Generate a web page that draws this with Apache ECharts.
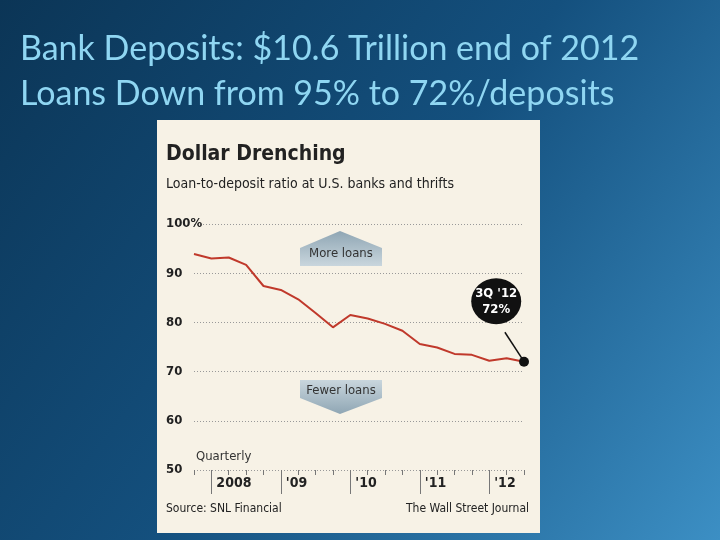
<!DOCTYPE html>
<html><head><meta charset="utf-8">
<script src="https://cdn.jsdelivr.net/npm/echarts@6/dist/echarts.min.js"></script>
<style>html,body{margin:0;padding:0}#c{width:720px;height:540px}</style>
</head><body><div id="c"></div>
<script>
// 4Q 2007 .. 3Q 2012, loan-to-deposit ratio (%)
var quarters = ['4Q07','1Q08','2Q08','3Q08','4Q08','1Q09','2Q09','3Q09','4Q09','1Q10','2Q10','3Q10','4Q10','1Q11','2Q11','3Q11','4Q11','1Q12','2Q12','3Q12'];
var ratio = [93.9, 93.0, 93.2, 91.7, 87.4, 86.6, 84.7, 81.9, 79.0, 81.5, 80.8, 79.7, 78.3, 75.6, 74.9, 73.6, 73.4, 72.2, 72.7, 72.0];
var yearStarts = [1, 5, 9, 13, 17];
var yearLabels = ['2008', "'09", "'10", "'11", "'12"];

var chart = echarts.init(document.getElementById('c'));
var narrow = "'Liberation Sans Narrow','DejaVu Sans Condensed',sans-serif";
var arrowFill = new echarts.graphic.LinearGradient(0, 0, 0, 1, [
  {offset: 0, color: '#8fa6b4'}, {offset: 1, color: '#c9d6dd'}]);
var arrowFill2 = new echarts.graphic.LinearGradient(0, 0, 0, 1, [
  {offset: 0, color: '#c9d6dd'}, {offset: 1, color: '#8fa6b4'}]);

var pts = ratio.map(function (v, i) { return [i, v]; });
var last = pts[pts.length - 1];

var option = {
  backgroundColor: new echarts.graphic.LinearGradient(0, 0, 1, 1, [
    {offset: 0, color: '#0b3556'}, {offset: 0.5, color: '#14507e'}, {offset: 1, color: '#3c8fc4'}]),
  graphic: [
    {type: 'rect', z: -1, shape: {x: 157, y: 120, width: 383, height: 413}, style: {fill: '#f7f2e6'}},
    {type: 'text', left: 20, top: 27, style: {text: 'Bank Deposits: $10.6 Trillion end of 2012\nLoans Down from 95% to 72%/deposits',
      fill: '#8fd6f2', font: '34px Lato, sans-serif', lineHeight: 45}},
    {type: 'text', left: 166, top: 144, style: {text: 'Dollar Drenching', fill: '#222', font: 'bold 21px ' + narrow}},
    {type: 'text', left: 166, top: 177, style: {text: 'Loan-to-deposit ratio at U.S. banks and thrifts', fill: '#222', font: '14px ' + narrow}},
    {type: 'text', left: 196, top: 450, style: {text: 'Quarterly', fill: '#333', font: '13px ' + narrow}},
    {type: 'text', left: 166, top: 503, style: {text: 'Source: SNL Financial', fill: '#222', font: '12px ' + narrow}},
    {type: 'text', right: 191, top: 503, style: {text: 'The Wall Street Journal', fill: '#222', font: '12px ' + narrow, align: 'right'}},
    {type: 'polygon', shape: {points: [[300, 248], [340, 231], [382, 248], [382, 266], [300, 266]]}, style: {fill: arrowFill}},
    {type: 'text', x: 341, y: 254, style: {text: 'More loans', fill: '#333', font: '13px ' + narrow, align: 'center', verticalAlign: 'middle'}},
    {type: 'polygon', shape: {points: [[300, 380], [382, 380], [382, 398], [340, 414], [300, 398]]}, style: {fill: arrowFill2}},
    {type: 'text', x: 341, y: 391, style: {text: 'Fewer loans', fill: '#333', font: '13px ' + narrow, align: 'center', verticalAlign: 'middle'}}
  ],
  grid: {left: 194, right: 196, top: 224, bottom: 70},
  xAxis: [{
    type: 'value', min: 0, max: 19, interval: 1,
    axisLine: {show: false}, splitLine: {show: false},
    axisTick: {show: true, length: 5, lineStyle: {color: '#777'}},
    axisLabel: {show: false}
  }, {
    type: 'value', min: 0, max: 19, position: 'bottom',
    axisLine: {show: false}, splitLine: {show: false},
    axisTick: {show: true, length: 24, customValues: yearStarts, lineStyle: {color: '#777'}},
    axisLabel: {show: true, customValues: yearStarts, align: 'left', margin: 6, padding: [0, 0, 0, 5],
      color: '#222', fontFamily: narrow, fontSize: 14, fontWeight: 'bold',
      formatter: function (v) { return yearLabels[yearStarts.indexOf(v)] || ''; }}
  }],
  yAxis: {
    type: 'value', min: 50, max: 100, interval: 10,
    axisLine: {show: false}, axisTick: {show: false},
    axisLabel: {align: 'left', margin: 28, color: '#222', fontFamily: narrow, fontSize: 13, fontWeight: 'bold',
      formatter: function (v) { return v === 100 ? '100%' : String(v); }},
    splitLine: {lineStyle: {color: '#999', type: [1, 2]}}
  },
  series: [{
    type: 'line', data: pts, symbol: 'none', smooth: false,
    lineStyle: {color: '#c0392b', width: 2},
    markLine: {silent: true, symbol: 'none', lineStyle: {color: '#111', width: 1.5, type: 'solid'},
      label: {show: false},
      data: [[{coord: [17.9, 78]}, {coord: [last[0] - 0.1, last[1] + 0.6]}]]},
    markPoint: {
      silent: true,
      data: [
        {coord: last, symbol: 'circle', symbolSize: 10, itemStyle: {color: '#111'}, label: {show: false}},
        {coord: [17.4, 84.3], symbol: 'circle', symbolSize: [50, 46], itemStyle: {color: '#111', opacity: 1},
          label: {show: true, position: 'inside', formatter: "3Q '12\n72%", color: '#fff',
            fontFamily: narrow, fontWeight: 'bold', fontSize: 13, lineHeight: 16}}
      ]
    }
  }]
};
chart.setOption(option);
</script></body></html>
